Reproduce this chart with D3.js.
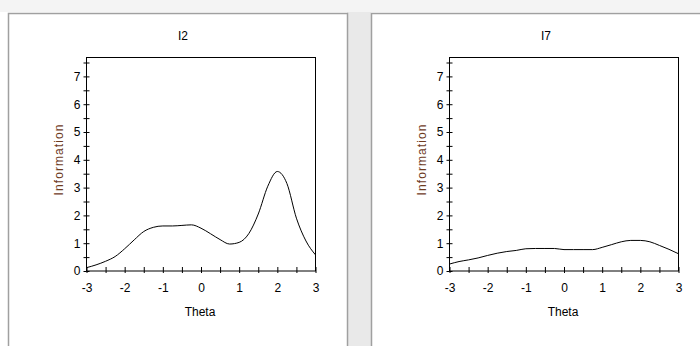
<!DOCTYPE html>
<html>
<head>
<meta charset="utf-8">
<script src="https://cdn.jsdelivr.net/npm/d3@7"></script>
<style>
  body { margin: 0; background: #fff; }
  svg { display: block; }
  text { font-family: "Liberation Sans", Arial, sans-serif; }
</style>
</head>
<body>
<div id="chart"></div>
<script>
// theta grid shared by both items
const theta = [-3, -2.75, -2.5, -2.25, -2, -1.75, -1.5, -1.25, -1, -0.75, -0.5, -0.25,
  0, 0.25, 0.5, 0.75, 1, 1.25, 1.5, 1.75, 2, 2.25, 2.5, 2.75, 3];

const infoI2 = [0.12, 0.22, 0.35, 0.52, 0.8, 1.12, 1.42, 1.57, 1.62, 1.62, 1.64, 1.66,
  1.54, 1.34, 1.13, 0.97, 1.03, 1.34, 2.05, 3.05, 3.58, 3.15, 1.9, 1.08, 0.58];

const infoI7 = [0.25, 0.34, 0.4, 0.47, 0.56, 0.64, 0.7, 0.74, 0.8, 0.81, 0.81, 0.81,
  0.77, 0.77, 0.77, 0.77, 0.85, 0.95, 1.05, 1.1, 1.1, 1.05, 0.92, 0.78, 0.62];

const itemNames = ["I2", "I7"];
const xTicks = [-3, -2.5, -2, -1.5, -1, -0.5, 0, 0.5, 1, 1.5, 2, 2.5, 3];
const yTicks = [0, 0.5, 1, 1.5, 2, 2.5, 3, 3.5, 4, 4.5, 5, 5.5, 6, 6.5, 7, 7.5];
const yMax = 7.68;

const width = 700, height = 346;

const svg = d3.select("#chart").append("svg")
  .attr("width", width)
  .attr("height", height);

// grey strip between the two windows
svg.append("rect")
  .attr("x", 347).attr("y", 0)
  .attr("width", 24).attr("height", height)
  .attr("fill", "#e9e9e9");
svg.append("rect")
  .attr("x", 0).attr("y", 0)
  .attr("width", width).attr("height", 12)
  .attr("fill", "#f4f4f4");

const panels = [
  { name: itemNames[0], values: infoI2, box: [8, 13, 339], plotLeft: 86 },
  { name: itemNames[1], values: infoI7, box: [371, 13, 340], plotLeft: 449 }
];

const plotTop = 57, plotW = 229, plotH = 213.5;

panels.forEach(p => {
  // window frame
  svg.append("rect")
    .attr("x", p.box[0] + 0.5).attr("y", p.box[1] + 0.5)
    .attr("width", p.box[2]).attr("height", height)
    .attr("fill", "#fff")
    .attr("stroke", "#a0a0a0")
    .attr("stroke-width", 1.5);

  const x = d3.scaleLinear().domain([-3, 3]).range([0, plotW]);
  const y = d3.scaleLinear().domain([0, yMax]).range([plotH, 0]);

  const g = svg.append("g")
    .attr("transform", `translate(${p.plotLeft + 0.5},${plotTop + 0.5})`);

  g.append("rect")
    .attr("width", plotW).attr("height", plotH)
    .attr("fill", "none")
    .attr("stroke", "#000");

  // y axis, ticks cross the line
  const yl = g.append("g")
    .call(d3.axisLeft(y).tickValues(yTicks).tickSize(3).tickPadding(3)
      .tickFormat(d => Number.isInteger(d) ? String(d) : ""));
  g.append("g")
    .call(d3.axisRight(y).tickValues(yTicks).tickSize(3).tickFormat(""));

  // x axis, ticks mostly point inward
  const xb = g.append("g")
    .attr("transform", `translate(0,${plotH})`)
    .call(d3.axisBottom(x).tickValues(xTicks).tickSize(2).tickPadding(10)
      .tickFormat(d => Number.isInteger(d) ? String(d) : ""));
  g.append("g")
    .attr("transform", `translate(0,${plotH})`)
    .call(d3.axisTop(x).tickValues(xTicks).tickSize(4).tickFormat(""));

  g.selectAll(".domain").remove();
  g.selectAll(".tick line").attr("stroke", "#000");
  g.selectAll(".tick text")
    .attr("fill", "#000")
    .style("font-size", "12px")
    .style("font-family", "'Liberation Sans', Arial, sans-serif");

  // information curve
  const line = d3.line()
    .x((d, i) => x(theta[i]))
    .y(d => y(d))
    .curve(d3.curveMonotoneX);

  g.append("path")
    .datum(p.values)
    .attr("d", line)
    .attr("fill", "none")
    .attr("stroke", "#000")
    .attr("stroke-width", 1);

  // labels
  svg.append("text")
    .attr("x", p.plotLeft + 97)
    .attr("y", 40)
    .attr("text-anchor", "middle")
    .style("font-size", "12px")
    .text(p.name);

  svg.append("text")
    .attr("x", p.plotLeft + 114)
    .attr("y", 316)
    .attr("text-anchor", "middle")
    .style("font-size", "12px")
    .text("Theta");

  svg.append("text")
    .attr("transform", `translate(${p.plotLeft - 23},160) rotate(-90)`)
    .attr("text-anchor", "middle")
    .attr("fill", "#6e3b1e")
    .attr("textLength", 71)
    .attr("lengthAdjust", "spacing")
    .style("font-size", "12px")
    .text("Information");
});
</script>
</body>
</html>
